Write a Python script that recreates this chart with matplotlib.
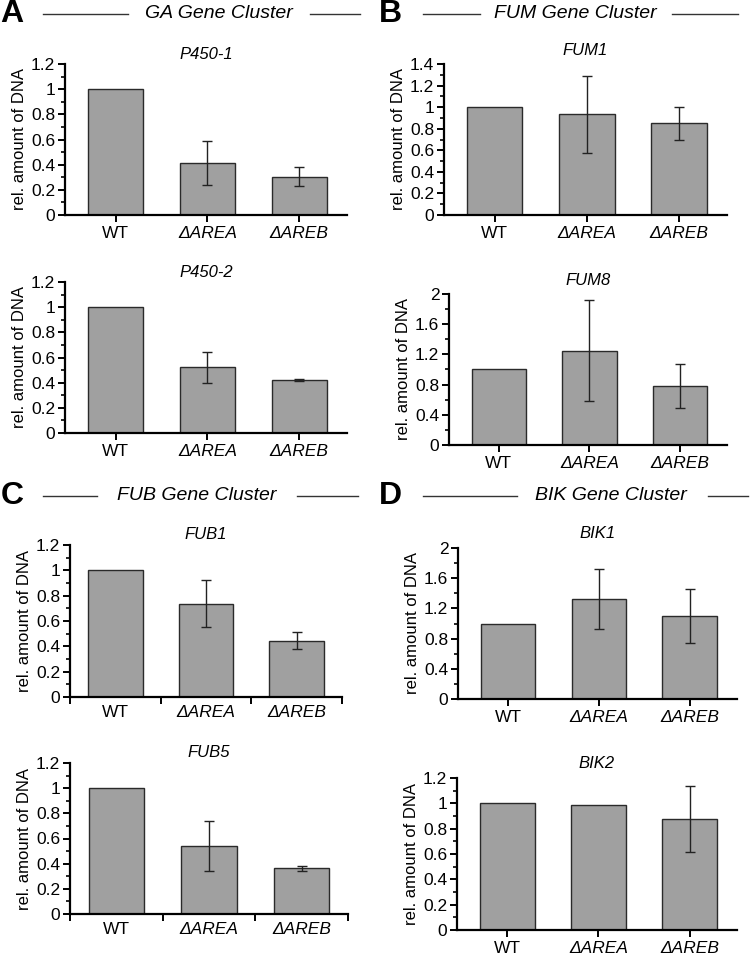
import matplotlib
matplotlib.use("Agg")
import matplotlib.pyplot as plt
from matplotlib.lines import Line2D
from matplotlib.ticker import MultipleLocator, FormatStrFormatter, FixedLocator
import numpy as np

plt.rcParams['font.family'] = ['Liberation Sans', 'DejaVu Sans']

categories = ["WT", "\u0394AREA", "\u0394AREB"]

# values per panel
p450_1 = [1.0, 0.415, 0.305]
p450_1_err = [0.0, 0.177, 0.075]
p450_2 = [1.0, 0.524, 0.42]
p450_2_err = [0.0, 0.123, 0.008]
fum1 = [1.0, 0.933, 0.85]
fum1_err = [0.0, 0.355, 0.155]
fum8 = [1.0, 1.25, 0.78]
fum8_err = [0.0, 0.67, 0.29]
fub1 = [1.0, 0.735, 0.446]
fub1_err = [0.0, 0.185, 0.07]
fub5 = [1.0, 0.538, 0.363]
fub5_err = [0.0, 0.2, 0.022]
bik1 = [1.0, 1.325, 1.10]
bik1_err = [0.0, 0.40, 0.36]
bik2 = [1.0, 0.987, 0.876]
bik2_err = [0.0, 0.0, 0.262]

W, H = 750, 957
fig = plt.figure(figsize=(W / 100, H / 100), dpi=100)

def add_ax(left, right, top, bottom):
    return fig.add_axes([left / W, 1 - bottom / H, (right - left) / W, (bottom - top) / H])

panels = [
    # title, vals, errs, ymax, major, rect(left,right,top,bottom), boundary ticks, title pad
    ("P450-1", p450_1, p450_1_err, 1.2, 0.2, (65, 347, 64, 215), False, 3.5),
    ("P450-2", p450_2, p450_2_err, 1.2, 0.2, (65, 347, 282, 433), False, 3.5),
    ("FUM1", fum1, fum1_err, 1.4, 0.2, (444, 727, 64, 215), False, 6.5),
    ("FUM8", fum8, fum8_err, 2.0, 0.4, (449, 727, 294, 445), False, 6.5),
    ("FUB1", fub1, fub1_err, 1.2, 0.2, (70, 342, 545, 697), True, 4),
    ("FUB5", fub5, fub5_err, 1.2, 0.2, (70, 348, 763, 914), True, 4),
    ("BIK1", bik1, bik1_err, 2.0, 0.4, (458, 737, 548, 699), False, 7.5),
    ("BIK2", bik2, bik2_err, 1.2, 0.2, (457, 737, 778, 930), False, 7.5),
]

bar_color = "#a0a0a0"
edge = "#2a2a2a"

for title, vals, errs, ymax, major, rect, boundary, tpad in panels:
    ax = add_ax(*rect)
    x = np.arange(len(categories))
    ax.bar(x, vals, width=0.6, color=bar_color, edgecolor=edge, linewidth=1.0, zorder=2)
    for xi, v, e in zip(x, vals, errs):
        if e > 0:
            ax.errorbar(xi, v, yerr=e, fmt="none", ecolor="#222222", elinewidth=1.0,
                        capsize=3.5, capthick=1.0, zorder=3)
    ax.set_ylim(0, ymax)
    if boundary:
        ax.set_xlim(-0.5, 2.5)
    else:
        ax.set_xlim(-0.55, 2.52)
    ax.yaxis.set_major_locator(MultipleLocator(major))
    ax.yaxis.set_minor_locator(MultipleLocator(major / 2))
    ax.yaxis.set_major_formatter(FormatStrFormatter('%g'))
    for s in ("top", "right"):
        ax.spines[s].set_visible(False)
    for s in ("left", "bottom"):
        ax.spines[s].set_linewidth(1.6)
        ax.spines[s].set_color("black")
    ax.tick_params(axis="y", which="major", direction="out", length=5, width=1.4,
                   labelsize=12.5, pad=2)
    ax.tick_params(axis="y", which="minor", direction="out", length=3, width=1.2)
    if boundary:
        ax.xaxis.set_major_locator(FixedLocator([-0.5, 0.5, 1.5, 2.5]))
        ax.xaxis.set_major_formatter(plt.NullFormatter())
        ax.xaxis.set_minor_locator(FixedLocator(x))
        ax.set_xticklabels(categories, minor=True)
        ax.tick_params(axis="x", which="major", direction="out", length=5, width=1.4)
        ax.tick_params(axis="x", which="minor", length=0, labelsize=12.5, pad=6)
        labels = ax.get_xticklabels(minor=True)
    else:
        ax.set_xticks(x)
        ax.set_xticklabels(categories)
        ax.tick_params(axis="x", which="major", direction="out", length=5, width=1.4,
                       labelsize=12.5, pad=3)
        labels = ax.get_xticklabels()
    for lab in labels[1:]:
        lab.set_fontstyle("italic")
    ax.set_ylabel("rel. amount of DNA", fontsize=12, labelpad=3)
    ax.set_title(title, fontsize=12, style="italic", pad=tpad)

# Headers
headers = [
    ("A", 12, 14, "GA Gene Cluster", 219, (43, 128), (310, 360)),
    ("B", 390, 14, "FUM Gene Cluster", 575, (423, 480), (672, 738)),
    ("C", 12, 496, "FUB Gene Cluster", 197, (43, 97), (297, 358)),
    ("D", 390, 496, "BIK Gene Cluster", 611, (423, 517), (708, 748)),
]
for letter, lx, y, text, tx, l1, l2 in headers:
    fig.text(lx / W, 1 - y / H, letter, fontsize=23, fontweight="bold",
             ha="center", va="center")
    fig.text(tx / W, 1 - y / H, text, fontsize=14, style="italic",
             ha="center", va="center")
    for (a, b) in (l1, l2):
        fig.add_artist(Line2D([a / W, b / W], [1 - y / H, 1 - y / H],
                              color="#333333", linewidth=1.0))

fig.savefig("out.png", dpi=100, facecolor="white")
